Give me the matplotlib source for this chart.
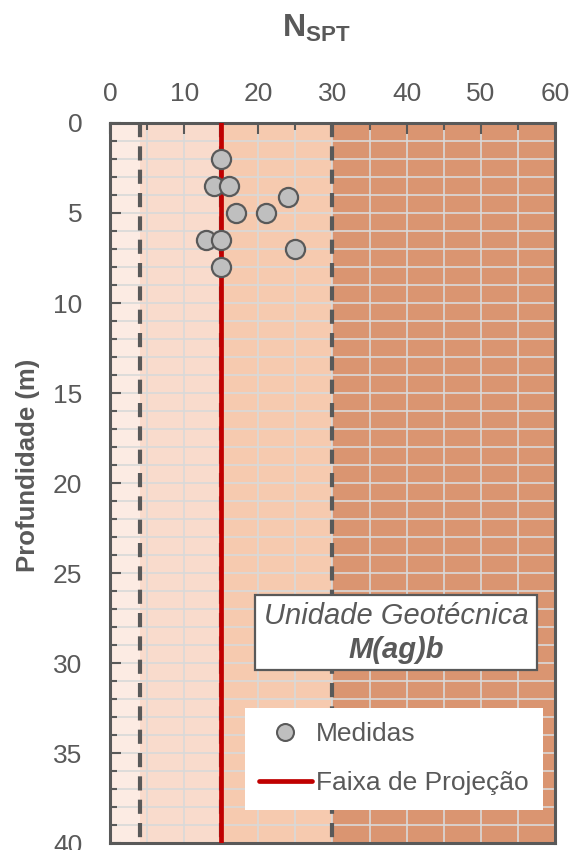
import matplotlib
matplotlib.use("Agg")
import matplotlib.pyplot as plt
from matplotlib.lines import Line2D
from matplotlib.patches import Rectangle

plt.rcParams['font.family'] = ['Liberation Sans', 'DejaVu Sans']
plt.rcParams['mathtext.fontset'] = 'custom'
plt.rcParams['mathtext.bf'] = 'Liberation Sans:bold'
plt.rcParams['mathtext.rm'] = 'Liberation Sans'

cinza = '#595959'

# dados (NSPT x profundidade)
nspt = [15, 14, 16, 24, 17, 21, 13, 15, 25, 15]
prof = [2, 3.5, 3.5, 4.1, 5, 5, 6.5, 6.5, 7, 8]

# faixas de compacidade (limites em NSPT) e cores
faixas = [0, 4, 15, 30, 60]
cores = ['#FCEBE3', '#F9DBCC', '#F6CAAF', '#DA9571']
limites_tracejados = [4, 15, 30]
projecao = 15
prof_max = 40

fig = plt.figure(figsize=(5.74, 8.5), dpi=100)
ax = fig.add_axes([0.1916, 0.0082, 0.7753, 0.8471])

for i in range(len(cores)):
    ax.axvspan(faixas[i], faixas[i+1], color=cores[i], zorder=0, lw=0)

for xl in limites_tracejados:
    ax.plot([xl, xl], [0, prof_max], color=cinza, lw=3, dashes=(3.4, 2.2), zorder=2)

ax.plot([projecao, projecao], [0, prof_max], color='#C00000', lw=3.4, zorder=3)

ax.scatter(nspt, prof, s=190, facecolor='#BFBFBF', edgecolor=cinza, linewidth=1.6, zorder=4)

ax.set_xlim(0, 60)
ax.set_ylim(prof_max, 0)
ax.xaxis.tick_top()
ax.set_xticks(range(0, 61, 10))
ax.set_xticks(range(0, 61, 5), minor=True)
ax.set_yticks(range(0, 41, 5))
ax.set_yticks(range(0, 41, 1), minor=True)
ax.set_axisbelow(True)
ax.grid(which='minor', color='#D9D9D9', lw=1.2)
ax.grid(which='major', color='#D9D9D9', lw=1.2)
ax.tick_params(which='both', direction='in', color=cinza, labelcolor=cinza, labelsize=19, width=1.5)
ax.tick_params(which='major', length=8)
ax.tick_params(which='minor', length=5)
ax.tick_params(axis='x', which='major', pad=12)
ax.tick_params(axis='y', which='major', pad=20)
for s in ax.spines.values():
    s.set_color(cinza)
    s.set_linewidth(2.2)

fig.text(316/574, 1 - 28/850, r'$\mathbf{N_{SPT}}$', fontsize=23, color=cinza, ha='center', va='center')
ax.set_ylabel('Profundidade (m)', fontsize=18.5, fontweight='bold', color=cinza)
ax.yaxis.set_label_coords(-0.157, 0.525)

# caixa da unidade geotecnica
ax.add_patch(Rectangle((0.326, 0.240), 0.634, 0.104, transform=ax.transAxes,
                       facecolor='white', edgecolor=cinza, lw=1.6, zorder=5))
ax.text(0.643, 0.315, 'Unidade Geotécnica', transform=ax.transAxes, ha='center', va='center',
        fontsize=21, style='italic', color=cinza, zorder=6)
ax.text(0.643, 0.268, 'M(ag)b', transform=ax.transAxes, ha='center', va='center',
        fontsize=21, style='italic', fontweight='bold', color=cinza, zorder=6)

handles = [Line2D([], [], ls='none', marker='o', markersize=12.2, markerfacecolor='#BFBFBF',
                  markeredgecolor=cinza, markeredgewidth=1.5),
           Line2D([], [], color='#C00000', lw=3.4, solid_capstyle='round')]
leg = ax.legend(handles, ['Medidas', 'Faixa de Projeção'], loc='lower right',
                bbox_to_anchor=(0.973, 0.046), fontsize=19, frameon=True, fancybox=False,
                framealpha=1, edgecolor='none', handlelength=2.0, handletextpad=0.15,
                labelspacing=0.95, borderpad=0.55, borderaxespad=0)
leg.set_zorder(6)
for t in leg.get_texts():
    t.set_color(cinza)

fig.savefig('out.png', dpi=100)
